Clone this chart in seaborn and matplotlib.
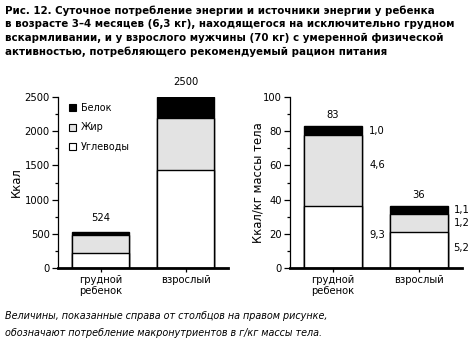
import matplotlib
matplotlib.use("Agg")
import matplotlib.pyplot as plt
from matplotlib.ticker import MultipleLocator
from matplotlib.patches import Patch
import numpy as np
import pandas as pd
import seaborn as sns

sns.set_theme(style="ticks")
plt.rcParams["font.family"] = ["DejaVu Sans"]
for key in ("text.color", "axes.labelcolor", "xtick.color", "ytick.color",
            "axes.edgecolor"):
    plt.rcParams[key] = "black"

categories = ["грудной\nребенок", "взрослый"]
components = ["Белок", "Жир", "Углеводы"]

# daily energy, kcal
kcal_carbs = [225, 1440]
kcal_fat = [257, 755]
kcal_protein = [42, 305]
kcal_total = [524, 2500]

# energy per kg body weight, kcal/kg
perkg_carbs = [36.5, 21.0]
perkg_fat = [41.5, 10.5]
perkg_protein = [5.0, 4.5]
perkg_total = [83, 36]

# macronutrient intake, g/kg body weight
grams_protein = ["1,0", "1,1"]
grams_fat = ["4,6", "1,2"]
grams_carbs = ["9,3", "5,2"]

colors = {"Белок": "#000000", "Жир": "#e3e3e3", "Углеводы": "#ffffff"}

FS = 7.2
W, H = 475, 345
fig = plt.figure(figsize=(W / 100, H / 100), dpi=100)
fig.patch.set_facecolor("white")


def stacked(ax, carbs, fat, protein):
    c = np.array(carbs, float)
    f = np.array(fat, float)
    p = np.array(protein, float)
    layers = [("Белок", c + f + p), ("Жир", c + f), ("Углеводы", c)]
    for name, top in layers:
        df = pd.DataFrame({"cat": categories, "val": top})
        sns.barplot(data=df, x="cat", y="val", ax=ax, color=colors[name],
                    edgecolor="black", linewidth=1.0, width=0.67,
                    saturation=1, errorbar=None)


def style(ax, ymax, major, minor, ylabel, label_x):
    ax.set_xlim(-0.5, 1.5)
    ax.set_ylim(0, ymax)
    ax.yaxis.set_major_locator(MultipleLocator(major))
    ax.yaxis.set_minor_locator(MultipleLocator(minor))
    ax.tick_params(axis="y", which="major", length=4, width=0.9,
                   labelsize=FS, pad=2)
    ax.tick_params(axis="y", which="minor", length=2, width=0.9)
    ax.tick_params(axis="x", length=3, width=0.9, labelsize=FS, pad=2)
    ax.set_xlabel("")
    ax.set_ylabel(ylabel, fontsize=8.4)
    ax.yaxis.set_label_coords(label_x, 0.5)
    for s in ("top", "right"):
        ax.spines[s].set_visible(False)
    ax.spines["left"].set_linewidth(0.9)
    ax.spines["bottom"].set_linewidth(2.0)
    ax.set_facecolor("white")
    ax.grid(False)
    for t in ax.get_xticklabels():
        t.set_linespacing(1.15)


# left panel: kcal per day
ax1 = fig.add_axes([58 / W, 1 - 268 / H, 170 / W, 171 / H])
stacked(ax1, kcal_carbs, kcal_fat, kcal_protein)
style(ax1, 2500, 500, 250, "Ккал", -0.205)
for i, v in enumerate(kcal_total):
    ax1.text(i, v + 140, f"{v}", ha="center", va="bottom", fontsize=FS)

handles = [Patch(facecolor=colors[n], edgecolor="black", linewidth=0.8)
           for n in components]
leg = ax1.legend(handles, components, loc="upper left",
                 bbox_to_anchor=(0.065, 0.965), frameon=False, fontsize=6.9,
                 handlelength=0.75, handleheight=0.75, handletextpad=0.45,
                 labelspacing=0.98, borderaxespad=0, borderpad=0)

# right panel: kcal per kg body weight
ax2 = fig.add_axes([290 / W, 1 - 268 / H, 172 / W, 171 / H])
stacked(ax2, perkg_carbs, perkg_fat, perkg_protein)
style(ax2, 100, 20, 10, "Ккал/кг массы тела", -0.15)
for i, v in enumerate(perkg_total):
    ax2.text(i, v + 3.8, f"{v}", ha="center", va="bottom", fontsize=FS)

xr = [0.42, 1.40]
y_prot = [80.0, 33.9]
y_fat = [60.2, 26.5]
y_carb = [19.3, 11.9]
for i in range(2):
    ax2.text(xr[i], y_prot[i], grams_protein[i], ha="left", va="center", fontsize=FS)
    ax2.text(xr[i], y_fat[i], grams_fat[i], ha="left", va="center", fontsize=FS)
    ax2.text(xr[i], y_carb[i], grams_carbs[i], ha="left", va="center", fontsize=FS)

# heading
title = ("Рис. 12. Суточное потребление энергии и источники энергии у ребенка\n"
         "в возрасте 3–4 месяцев (6,3 кг), находящегося на исключительно грудном\n"
         "вскармливании, и у взрослого мужчины (70 кг) с умеренной физической\n"
         "активностью, потребляющего рекомендуемый рацион питания")
fig.text(5 / W, 1 - 5 / H, title, ha="left", va="top", fontsize=7.35,
         fontweight="bold", linespacing=1.45)

note = ("Величины, показанные справа от столбцов на правом рисунке,\n"
        "обозначают потребление макронутриентов в г/кг массы тела.")
fig.text(5 / W, 1 - 311 / H, note, ha="left", va="top", fontsize=6.95,
         style="italic", linespacing=1.85)

fig.savefig("out.png", dpi=100, facecolor="white")
